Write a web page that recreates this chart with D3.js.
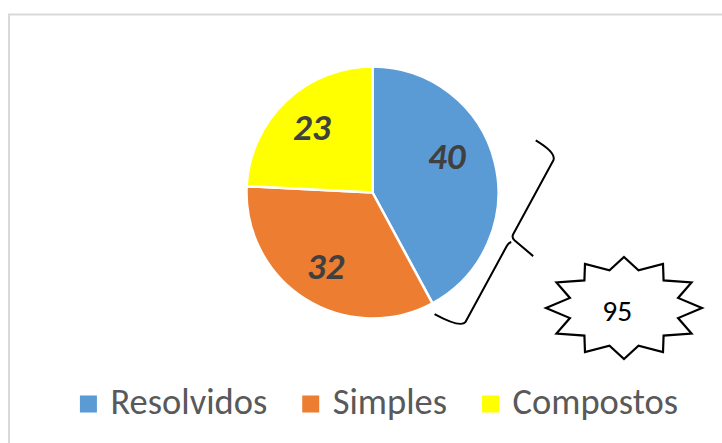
<!DOCTYPE html>
<html>
<head>
<meta charset="utf-8">
<script src="https://cdn.jsdelivr.net/npm/d3@7.9.0/dist/d3.min.js"></script>
<style>
  html, body { margin: 0; padding: 0; background: #fff; }
  svg { display: block; font-family: Calibri, Carlito, Lato, sans-serif; }
</style>
</head>
<body>
<svg id="chart" width="722" height="443"></svg>
<script>
// --- Data ---
const categories = ['Resolvidos', 'Simples', 'Compostos'];
const values = [40, 32, 23];
const colors = ['#5B9BD5', '#ED7D31', '#FFFF00'];
const total = d3.sum(values);  // 95, shown in the star

const svg = d3.select('#chart');
const W = 722, H = 443;

// chart frame (runs off the right / bottom edge)
svg.append('rect')
  .attr('x', 9).attr('y', 14.5)
  .attr('width', W + 10).attr('height', H + 10)
  .attr('fill', 'none')
  .attr('stroke', '#d9d9d9')
  .attr('stroke-width', 2);

// --- Pie ---
const cx = 372.5, cy = 192.5, R = 126;
const pie = d3.pie().value(d => d.value).sort(null);
const arcs = pie(categories.map((c, i) => ({ label: c, value: values[i], color: colors[i] })));
const arc = d3.arc().innerRadius(0).outerRadius(R);
const labelArc = d3.arc().innerRadius(88).outerRadius(88);
// small manual nudge of the data labels (Excel moved the first one)
const labelNudge = [[-11, -14], [0, 0], [0, 0]];

const g = svg.append('g').attr('transform', `translate(${cx},${cy})`);
g.selectAll('path')
  .data(arcs)
  .join('path')
    .attr('d', arc)
    .attr('fill', d => d.data.color)
    .attr('stroke', '#fff')
    .attr('stroke-width', 2.5)
    .attr('stroke-linejoin', 'round');

g.selectAll('text')
  .data(arcs)
  .join('text')
    .attr('x', (d, i) => labelArc.centroid(d)[0] + labelNudge[i][0])
    .attr('y', (d, i) => labelArc.centroid(d)[1] + labelNudge[i][1] + 11.7)
    .attr('text-anchor', 'middle')
    .attr('font-size', 37)
    .attr('font-weight', 'bold')
    .attr('font-style', 'italic')
    .attr('fill', '#404040')
    .text(d => d.data.value);

// --- Curly brace next to the pie ---
const bracePath = 'M -101,-25 Q -100,-1 -92,0 L -8,0 Q -4,0 -3,4 L 2,28 ' +
                  'M 0,2 Q 2,0 6,0 L 92,0 Q 100,-1 100,-31';
svg.append('path')
  .attr('d', bracePath)
  .attr('transform', 'translate(509.5,241) rotate(118.5) scale(1,-1)')
  .attr('fill', 'none')
  .attr('stroke', '#000')
  .attr('stroke-width', 2)
  .attr('stroke-linejoin', 'round');

// --- 12-point star holding the total ---
const star = { x: 624, y: 308, rx: 78, ry: 51, irx: 56, iry: 39, n: 12 };
const starPts = d3.range(star.n * 2).map(k => {
  const a = -Math.PI / 2 + k * Math.PI / star.n;
  const outer = k % 2 === 0;
  return [
    star.x + (outer ? star.rx : star.irx) * Math.cos(a),
    star.y + (outer ? star.ry : star.iry) * Math.sin(a)
  ];
});
svg.append('path')
  .attr('d', d3.line()(starPts) + 'Z')
  .attr('fill', '#fff')
  .attr('stroke', '#000')
  .attr('stroke-width', 2.2)
  .attr('stroke-linejoin', 'miter');
svg.append('text')
  .attr('x', 617.3).attr('y', 320.7)
  .attr('text-anchor', 'middle')
  .attr('font-size', 29.5)
  .attr('fill', '#000')
  .text(total);

// --- Legend ---
const legend = svg.append('g').attr('class', 'legend');
const sq = 17, gapIn = 13.5, gapOut = 35, legendY = 404;
const items = legend.selectAll('g')
  .data(categories)
  .join('g');
items.append('rect')
  .attr('width', sq).attr('height', sq)
  .attr('y', legendY - sq / 2)
  .attr('fill', (d, i) => colors[i]);
items.append('text')
  .attr('x', sq + gapIn)
  .attr('y', legendY + 10)
  .attr('font-size', 36.5)
  .attr('fill', '#595959')
  .text(d => d);

// lay items out left to right, centred where the original legend sits
let x = 0;
const offsets = [];
items.each(function () {
  offsets.push(x);
  const w = d3.select(this).select('text').node().getComputedTextLength();
  x += sq + gapIn + w + gapOut;
});
const legendW = x - gapOut;
const legendX = 379 - legendW / 2;
items.attr('transform', (d, i) => `translate(${legendX + offsets[i]},0)`);
</script>
</body>
</html>
